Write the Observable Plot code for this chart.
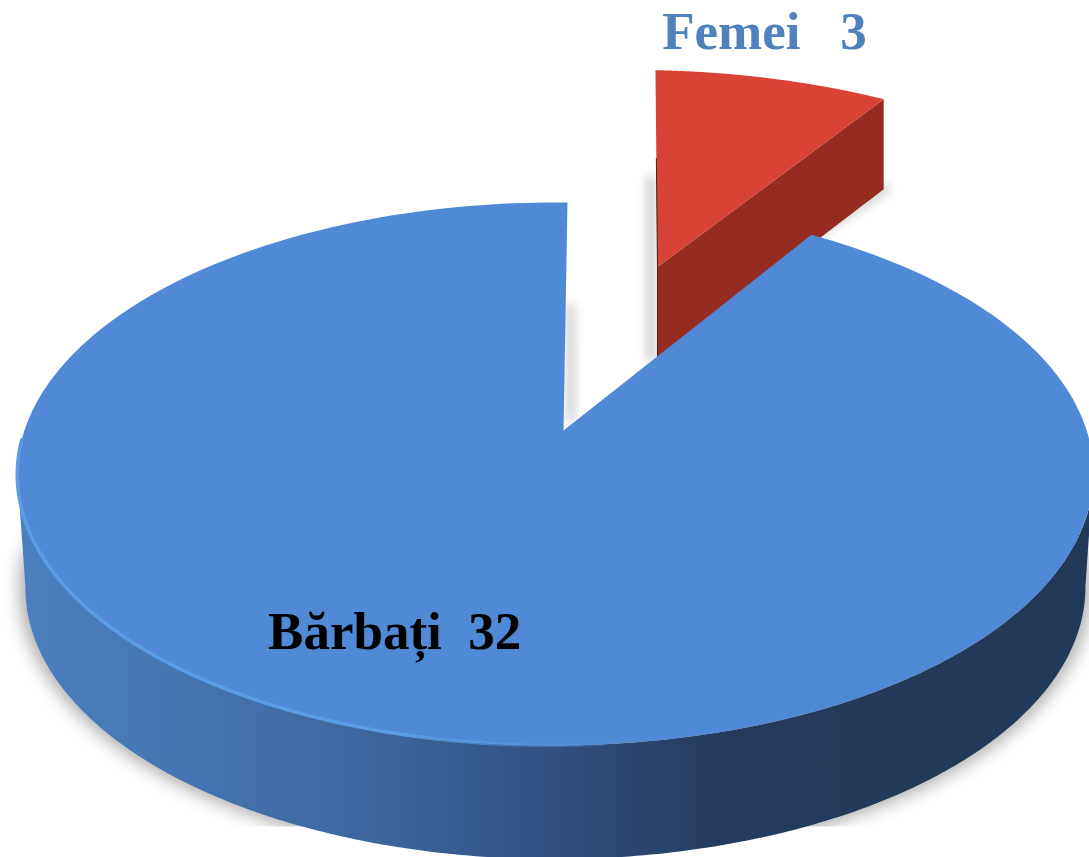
<!DOCTYPE html>
<html lang="ro">
<head>
<meta charset="utf-8">
<script src="https://cdn.jsdelivr.net/npm/d3@7"></script>
<script src="https://cdn.jsdelivr.net/npm/@observablehq/plot@0.6"></script>
<style>
html,body{margin:0;padding:0;background:#fff;overflow:hidden}
svg{display:block}
text{white-space:pre}
</style>
</head>
<body>
<div id="chart"></div>
<script>
// Date
const categories = ["Femei", "Bărbați"];
const values = [3, 32];
const labelGaps = ["   ", "  "];

// Perspectiva discului (unități: raza discului la nivelul centrului)
const k = 0.16, m = 0.015;
const depthBlue = 0.43, depthRed = 0.34;
const radiusRed = 1.06;
const rad = d => d * Math.PI / 180;
const total = d3.sum(values);
const sweep = values[0] / total * 2 * Math.PI;
const u0 = 0.197, v0 = 0.688;
const project = (u, v, drop = 0, shrink = 1) => {
  const w = 1 + k * v + m * u;
  return {X: shrink * u / w, Y: v / w - drop};
};
const rim = (a0, a1, r = 1, uc = 0, vc = 0, drop = 0, shrink = 1) =>
  d3.range(0, 241).map(i => {
    const a = a0 + (a1 - a0) * i / 240;
    return project(uc + r * Math.sin(a), vc + r * Math.cos(a), drop, shrink);
  });
const lowered = (p, d) => ({X: p.X, Y: p.Y - d});

const blueA0 = sweep + rad(1.4), blueA1 = 2 * Math.PI + rad(0.5);
const redA0 = rad(1.36), redA1 = sweep + rad(1.4);

const blueTop = [project(0, 0), ...rim(blueA0, blueA1)];
const blueWall = [...rim(rad(99), rad(261)), ...rim(rad(99), rad(261), 1, 0, 0, depthBlue, 0.985).reverse()];
const blueBase = rim(rad(90), rad(270), 1.012, 0, 0, depthBlue, 0.985);

const redRim = rim(redA0, redA1, radiusRed, u0, v0);
const redApex = project(u0, v0);
const redEnd = redRim[redRim.length - 1];
const redStart = redRim[0];
const redTop = [redApex, ...redRim];
const redWall = [redApex, redEnd, lowered(redEnd, depthRed), lowered(redApex, depthRed + 0.02)];
const redLeftEdge = [{X: redApex.X + (redStart.X - redApex.X) * 0.55, Y: redApex.Y + (redStart.Y - redApex.Y) * 0.55}, redApex, lowered(redApex, depthRed)];
const redShadowLeft = [{X: redApex.X - 0.012, Y: redApex.Y + 0.33}, {X: redApex.X - 0.012, Y: redApex.Y - depthRed}];
const redShadowRight = [lowered(redEnd, depthRed), {X: redEnd.X - 0.13, Y: redEnd.Y - depthRed - 0.17}];
const blueShadowNotch = [project(0.014, 0.5), project(0.014, 0.05)];
const glint = rim(rad(176), rad(268));

const line = (pts, opts) => Plot.line(pts, {x: "X", y: "Y", curve: "linear", stroke: "none", ...opts});

const defs = () => {
  const g = document.createElementNS("http://www.w3.org/2000/svg", "g");
  g.innerHTML = `<defs>
    <linearGradient id="wall" gradientUnits="userSpaceOnUse" x1="15" x2="1089" y1="0" y2="0">
      <stop offset="0" stop-color="#4b80c1"/>
      <stop offset=".18" stop-color="#4573b0"/>
      <stop offset=".36" stop-color="#3b6399"/>
      <stop offset=".52" stop-color="#2e4e7c"/>
      <stop offset=".66" stop-color="#243b5d"/>
      <stop offset="1" stop-color="#223857"/>
    </linearGradient>
    <linearGradient id="glint" gradientUnits="userSpaceOnUse" x1="15" x2="640" y1="0" y2="0">
      <stop offset="0" stop-color="#5a9ce6"/>
      <stop offset=".6" stop-color="#5a9ce6"/>
      <stop offset="1" stop-color="#5a9ce6" stop-opacity="0"/>
    </linearGradient>
    <filter id="b9" filterUnits="userSpaceOnUse" x="-50" y="-50" width="1189" height="957"><feGaussianBlur stdDeviation="8"/></filter>
    <filter id="b6" filterUnits="userSpaceOnUse" x="-50" y="-50" width="1189" height="957"><feGaussianBlur stdDeviation="5"/></filter>
    <clipPath id="shadowClip" clipPathUnits="userSpaceOnUse"><rect x="0" y="0" width="1089" height="826"/></clipPath>
  </defs>`;
  return g;
};

const labels = [
  {name: `${categories[0]}${labelGaps[0]}${values[0]}`, X: 0.3785, Y: 1.505, color: "#4f81bd"},
  {name: `${categories[1]}${labelGaps[1]}${values[1]}`, X: -0.318, Y: -0.763, color: "#000000"}
];

const plot = Plot.plot({
  width: 1089, height: 857,
  margin: 0,
  style: {background: "#ffffff"},
  x: {axis: null, domain: [-563 / 531, 526 / 531], range: [0, 1089]},
  y: {axis: null, domain: [-427 / 264.5, 430 / 264.5], range: [857, 0]},
  marks: [
    defs,
    line(blueBase, {fill: "#000", fillOpacity: 0.3}),
    line(redShadowLeft, {stroke: "#000", strokeOpacity: 0.2, strokeWidth: 9}),
    line(redShadowRight, {stroke: "#000", strokeOpacity: 0.16, strokeWidth: 12}),
    line(blueShadowNotch, {stroke: "#000", strokeOpacity: 0.18, strokeWidth: 9}),
    line(redWall, {fill: "#962c21"}),
    line(redTop, {fill: "#d84335"}),
    line(redLeftEdge, {stroke: "#4a1a14", strokeWidth: 1}),
    line(blueWall, {fill: "url(#wall)"}),
    line(blueTop, {fill: "#5089d5"}),
    line(glint, {stroke: "url(#glint)", strokeWidth: 3.5}),
    Plot.text(labels, {
      x: "X", y: "Y", text: "name", fill: "color",
      fontFamily: "Liberation Serif", fontWeight: "bold", fontSize: 53,
      textAnchor: "middle", lineAnchor: "middle"
    })
  ]
});
// Umbrele: primele patru grupuri de semne după definiții primesc estompare
const groups = Array.from(plot.children).filter(el => el.tagName.toLowerCase() === "g");
groups[1].setAttribute("filter", "url(#b9)");
groups[1].setAttribute("clip-path", "url(#shadowClip)");
groups.slice(2, 5).forEach(g => g.setAttribute("filter", "url(#b6)"));
document.getElementById("chart").append(plot);
</script>
</body>
</html>
